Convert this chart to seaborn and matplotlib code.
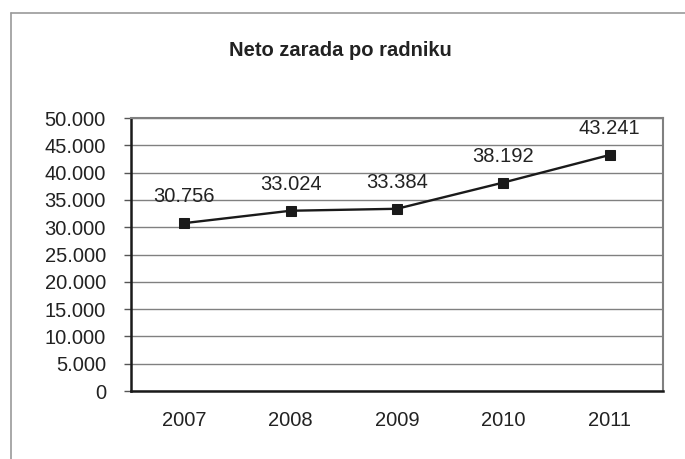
import matplotlib
matplotlib.use('Agg')
import matplotlib.pyplot as plt
import seaborn as sns
import pandas as pd
from matplotlib.lines import Line2D
from matplotlib.ticker import FixedLocator, FuncFormatter

years = ['2007', '2008', '2009', '2010', '2011']
salary = [30756, 33024, 33384, 38192, 43241]
title = 'Neto zarada po radniku'


def fmt_thousands(v, pos=None):
    return f'{int(round(v)):,}'.replace(',', '.')


def main():
    sns.set_style('white')
    plt.rcParams['font.family'] = ['Liberation Sans', 'DejaVu Sans']

    df = pd.DataFrame({'year': years, 'salary': salary})

    fig = plt.figure(figsize=(6.85, 4.59), dpi=100)
    ax = fig.add_axes([0.1912, 0.148, 0.7766, 0.5948])

    sns.lineplot(data=df, x='year', y='salary', ax=ax, color='#1a1a1a', linewidth=1.7,
                 marker='s', markersize=6.5, markeredgecolor='#1a1a1a', markerfacecolor='#1a1a1a')

    for i, v in enumerate(salary):
        ax.annotate(fmt_thousands(v), (i, v), xytext=(0, 19), textcoords='offset points',
                    ha='center', va='center', fontsize=14.5, color='#222222')

    ax.set_xlim(-0.5, 4.5)
    ax.set_ylim(0, 50000)
    ax.set_yticks(range(0, 50001, 5000))
    ax.yaxis.set_major_formatter(FuncFormatter(fmt_thousands))
    ax.yaxis.grid(True, color='#808080', linewidth=1.0)
    ax.xaxis.grid(False)
    ax.set_axisbelow(True)

    ax.xaxis.set_minor_locator(FixedLocator([-0.5, 0.5, 1.5, 2.5, 3.5, 4.5]))
    ax.tick_params(axis='x', which='major', length=0, pad=14, labelsize=14.5, labelcolor='#222222')
    ax.tick_params(axis='x', which='minor', length=5, width=1, color='#555555', direction='out')
    ax.tick_params(axis='y', which='major', length=5, width=1, color='#555555', direction='out',
                   pad=13, labelsize=14.5, labelcolor='#222222', left=True)

    ax.set_xlabel('')
    ax.set_ylabel('')

    for side in ['top', 'right']:
        ax.spines[side].set_color('#808080')
        ax.spines[side].set_linewidth(1.5)
    for side in ['left', 'bottom']:
        ax.spines[side].set_color('#1a1a1a')
        ax.spines[side].set_linewidth(1.8)

    fig.text(0.4964, 1 - 56 / 459, title, ha='center', va='baseline', fontsize=14.5,
             fontweight='bold', color='#222222')

    # outer chart frame (only top and left edges are visible)
    fig.add_artist(Line2D([0.016, 1.0], [0.9717, 0.9717], transform=fig.transFigure,
                          color='#9a9a9a', linewidth=1.2))
    fig.add_artist(Line2D([0.016, 0.016], [0.0, 0.9717], transform=fig.transFigure,
                          color='#9a9a9a', linewidth=1.2))

    fig.savefig('out.png', dpi=100, facecolor='white')


if __name__ == "__main__":
    main()
